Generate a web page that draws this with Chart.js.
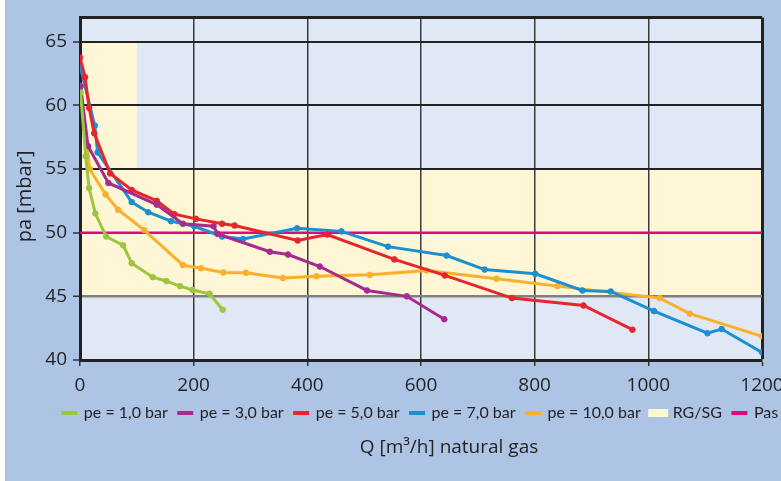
<!DOCTYPE html>
<html>
<head>
<meta charset="utf-8">
<script src="https://cdn.jsdelivr.net/npm/chart.js@4.4.1/dist/chart.umd.min.js"></script>
<style>
  html, body { margin: 0; padding: 0; width: 781px; height: 481px; overflow: hidden; }
  body { background: linear-gradient(90deg, #fff 0, #fff 5px, #aec4e4 5px); }
  canvas { display: block; }
</style>
</head>
<body>
<canvas id="chart" width="781" height="481"></canvas>
<script>
// Axis ticks
const xTicks = [0, 200, 400, 600, 800, 1000, 1200];
const yTicks = [40, 45, 50, 55, 60, 65];
const yTop = 66.9;

const xTitle = "Q [m³/h] natural gas";
const yTitle = "pa [mbar]";

// pe = 1,0 bar
const pe1Q  = [1, 10, 16, 27, 46, 76, 91, 128, 152, 176, 198, 228, 251];
const pe1Pa = [61, 56.0, 53.5, 51.5, 49.7, 49.0, 47.6, 46.5, 46.2, 45.8, 45.5, 45.2, 43.95];

// pe = 3,0 bar
const pe3Q  = [1, 14, 50, 135, 181, 235, 242, 334, 366, 422, 505, 575, 641];
const pe3Pa = [61.5, 56.8, 53.9, 52.2, 50.7, 50.5, 49.9, 48.5, 48.28, 47.34, 45.46, 45.0, 43.2];

// pe = 5,0 bar
const pe5Q  = [0, 9, 16, 25, 53, 91, 135, 166, 204, 250, 272, 383, 435, 553, 642, 760, 886, 972];
const pe5Pa = [63.75, 62.2, 59.8, 57.8, 54.65, 53.35, 52.5, 51.45, 51.08, 50.7, 50.56, 49.38, 49.85, 47.9, 46.64, 44.86, 44.28, 42.38];

// pe = 7,0 bar
const pe7Q  = [0, 26, 31, 91, 120, 160, 201, 250, 287, 382, 460, 542, 645, 712, 801, 884, 934, 1010, 1104, 1129, 1200];
const pe7Pa = [63.1, 58.4, 56.3, 52.4, 51.6, 50.9, 50.5, 49.7, 49.5, 50.34, 50.1, 48.9, 48.2, 47.1, 46.77, 45.46, 45.38, 43.84, 42.1, 42.43, 40.6];

// pe = 10,0 bar
const pe10Q  = [1, 17, 45, 67, 113, 181, 213, 252, 292, 357, 416, 510, 610, 733, 840, 1020, 1073, 1200];
const pe10Pa = [61.5, 55.0, 53.0, 51.8, 50.2, 47.45, 47.2, 46.87, 46.85, 46.43, 46.58, 46.69, 47.03, 46.38, 45.8, 44.86, 43.64, 41.86];

// RG/SG zone (upper edge, filled down to 45)
const rgQ  = [0, 100, 100, 1200];
const rgPa = [65, 65, 55, 55];
const rgFloor = 45;

// Pas
const pasQ  = [0, 1200];
const pasPa = [50, 50];

const colors = {
  pe1: "#9bc63d",
  pe3: "#a62b8e",
  pe5: "#e9242c",
  pe7: "#1b8fd0",
  pe10: "#fbb02a",
  rg: "#fef6d4",
  pas: "#e3077e",
  plot: "#e1e8f5"
};

function toPoints(xs, ys) {
  return xs.map((x, i) => ({ x: x, y: ys[i] }));
}

function series(label, xs, ys, color) {
  return {
    label: label,
    data: toPoints(xs, ys),
    borderColor: color,
    backgroundColor: color,
    borderWidth: 3,
    pointRadius: 2.8,
    pointBorderWidth: 1,
    pointBackgroundColor: color,
    pointBorderColor: color,
    tension: 0,
    fill: false
  };
}

// titles drawn at fixed offsets from the plot area
const axisTitles = {
  id: "axisTitles",
  afterDraw(chart) {
    const ctx = chart.ctx;
    const area = chart.chartArea;
    ctx.save();
    ctx.fillStyle = "#231f20";
    ctx.textAlign = "center";
    ctx.textBaseline = "middle";
    ctx.font = '19px "Open Sans"';
    ctx.fillText(xTitle, area.left + 369, area.bottom + 88);
    ctx.translate(25, area.top + 179);
    ctx.rotate(-Math.PI / 2);
    ctx.font = '20px "Open Sans"';
    ctx.fillText(yTitle, 0, 0);
    ctx.restore();
  }
};

const ctx = document.getElementById("chart").getContext("2d");

new Chart(ctx, {
  type: "line",
  data: {
    datasets: [
      series("pe = 1,0 bar", pe1Q, pe1Pa, colors.pe1),
      series("pe = 3,0 bar", pe3Q, pe3Pa, colors.pe3),
      series("pe = 5,0 bar", pe5Q, pe5Pa, colors.pe5),
      series("pe = 7,0 bar", pe7Q, pe7Pa, colors.pe7),
      series("pe = 10,0 bar", pe10Q, pe10Pa, colors.pe10),
      {
        label: "RG/SG",
        data: toPoints(rgQ, rgPa),
        borderWidth: 0,
        borderColor: colors.rg,
        backgroundColor: colors.rg,
        pointRadius: 0,
        tension: 0,
        fill: { value: rgFloor }
      },
      {
        label: "Pas",
        data: toPoints(pasQ, pasPa),
        borderColor: colors.pas,
        backgroundColor: colors.pas,
        borderWidth: 2.5,
        pointRadius: 0,
        fill: false
      },
      {
        // plot background
        label: "",
        data: toPoints([xTicks[0], xTicks[xTicks.length - 1]], [yTop, yTop]),
        borderWidth: 0,
        backgroundColor: colors.plot,
        pointRadius: 0,
        fill: { value: yTicks[0] }
      }
    ]
  },
  options: {
    responsive: false,
    animation: false,
    // right padding < 0 so the legend row is centred under the plot
    layout: { padding: { left: 40, right: -20, top: 17, bottom: 50 } },
    scales: {
      x: {
        type: "linear",
        min: 0,
        max: 1200,
        afterBuildTicks: s => { s.ticks = xTicks.map(v => ({ value: v })); },
        afterFit: s => {
          s.height = 34;
          // let the last label hang over the canvas edge like the original
          s.paddingLeft = 0;
          s.paddingRight = 0;
        },
        ticks: {
          padding: 8,
          color: "#231f20",
          font: { family: "Open Sans", size: 19 },
          callback: v => String(v)
        },
        grid: {
          color: c => (c.tick && c.tick.value === 1200) ? "#222" : "#3a3a3a",
          lineWidth: c => (c.tick && c.tick.value === 1200) ? 3 : 1.5,
          tickLength: 6,
          tickColor: "#333",
          tickWidth: 1.5
        },
        border: { color: "#222", width: 3 }
      },
      y: {
        min: 40,
        max: yTop,
        afterBuildTicks: s => { s.ticks = yTicks.concat([yTop]).map(v => ({ value: v })); },
        afterFit: s => { s.width = 40; },
        ticks: {
          padding: 6,
          color: "#231f20",
          font: { family: "Open Sans", size: 19 },
          callback: v => yTicks.includes(v) ? String(v) : ""
        },
        grid: {
          color: c => {
            const v = c.tick ? c.tick.value : 0;
            if (v === 50) return "rgba(0,0,0,0)";
            if (v === 45) return "#808080";
            return "#222";
          },
          lineWidth: c => {
            const v = c.tick ? c.tick.value : 0;
            if (v === yTop) return 3;
            if (v === 45) return 2.5;
            return 2;
          },
          tickLength: 7,
          tickColor: c => (c.tick && c.tick.value === yTop) ? "rgba(0,0,0,0)" : "#333",
          tickWidth: 1.5
        },
        border: { color: "#222", width: 3 }
      },
      y2: {
        position: "right",
        min: 40,
        max: yTop,
        afterFit: s => { s.width = 39; },
        ticks: { display: false },
        grid: { display: false },
        border: { display: false }
      }
    },
    plugins: {
      filler: { drawTime: "beforeDraw" },
      tooltip: { enabled: false },
      legend: {
        position: "bottom",
        align: "center",
        labels: {
          color: "#231f20",
          font: { family: "Lato", size: 16 },
          boxWidth: 13,
          boxHeight: 1,
          padding: 11,
          filter: item => item.text !== "",
          generateLabels: chart => {
            const items = Chart.defaults.plugins.legend.labels.generateLabels(chart);
            return items.map(item => {
              const ds = chart.data.datasets[item.datasetIndex];
              item.fillStyle = ds.backgroundColor;
              item.strokeStyle = ds.backgroundColor;
              item.lineWidth = ds.label === "RG/SG" ? 7 : 3;
              return item;
            });
          }
        }
      }
    }
  },
  plugins: [axisTitles]
});
</script>
</body>
</html>
